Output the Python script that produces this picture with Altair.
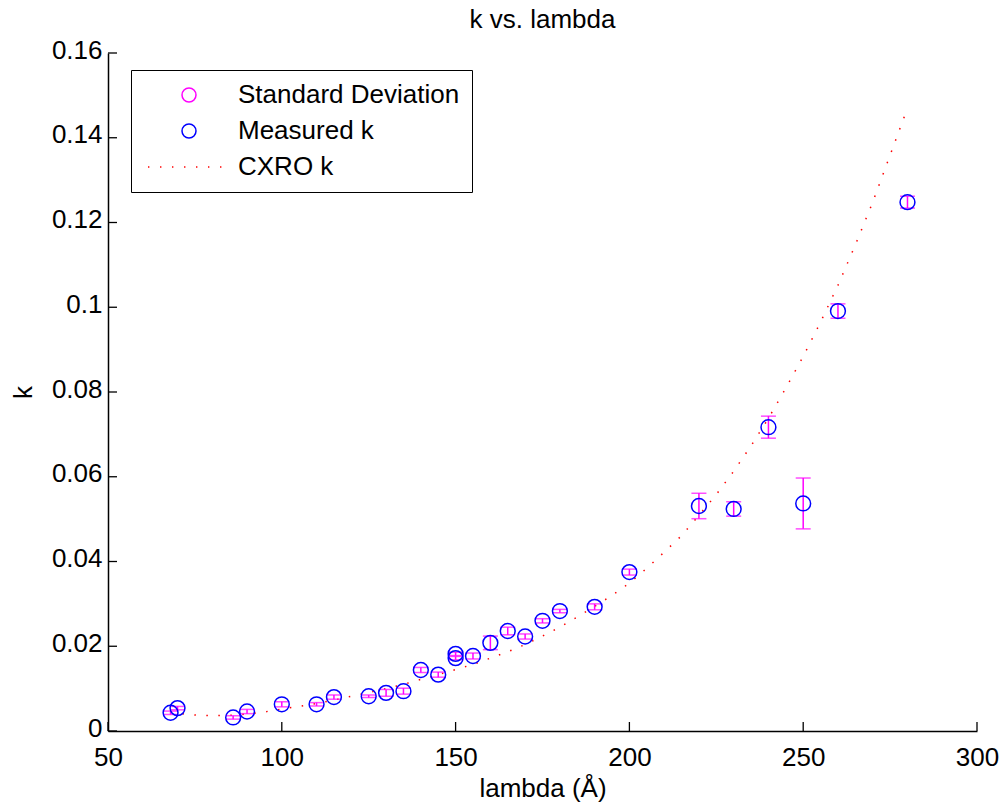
import altair as alt
import pandas as pd

# ---------------- data ----------------
lam_meas = [68, 70, 86, 90, 100, 110, 115, 125, 130, 135, 140, 145, 150, 150,
            155, 160, 165, 170, 175, 180, 190, 200, 220, 230, 240, 250, 260, 280]
k_meas = [0.0043, 0.0054, 0.0032, 0.0046, 0.0063, 0.0063, 0.0080, 0.0082, 0.0090,
          0.0094, 0.0144, 0.0133, 0.0182, 0.0172, 0.0177, 0.0208, 0.0236, 0.0223,
          0.0260, 0.0283, 0.0293, 0.0375, 0.0531, 0.0524, 0.0717, 0.0537, 0.0991,
          0.1248]
sd_meas = [0.0004, 0.0004, 0.0004, 0.0005, 0.0006, 0.0004, 0.0005, 0.0003, 0.0008,
           0.0007, 0.0006, 0.0006, 0.0004, 0.0004, 0.0007, 0.0016, 0.0009, 0.0006,
           0.0005, 0.0004, 0.0007, 0.0007, 0.0030, 0.0017, 0.0026, 0.0060, 0.0017,
           0.0014]

lam_cxro = [68, 72, 76, 80, 85, 90, 95, 100, 105, 110, 115, 120, 125, 130, 135,
            140, 145, 150, 155, 160, 165, 170, 175, 180, 185, 190, 195, 200, 205,
            210, 215, 220, 225, 230, 235, 240, 245, 250, 255, 260, 265, 270, 275, 280]
k_cxro = [0.0045, 0.0040, 0.0037, 0.0036, 0.0037, 0.0040, 0.0045, 0.0052, 0.0058,
          0.0065, 0.0073, 0.0082, 0.0091, 0.0100, 0.0110, 0.0122, 0.0133, 0.0145,
          0.0157, 0.0172, 0.0187, 0.0204, 0.0224, 0.0245, 0.0269, 0.0294, 0.0320,
          0.0349, 0.0384, 0.0422, 0.0461, 0.0509, 0.0558, 0.0613, 0.0673, 0.0738,
          0.0809, 0.0884, 0.0965, 0.1052, 0.1147, 0.1248, 0.1359, 0.1470]

x_ticks = [50, 100, 150, 200, 250, 300]
y_ticks = [0, 0.02, 0.04, 0.06, 0.08, 0.1, 0.12, 0.14, 0.16]

series_names = ["Standard Deviation", "Measured k", "CXRO k"]
series_colors = ["#ff00ff", "#0000ff", "#ff0000"]

# ---------------- tables ----------------
meas = pd.DataFrame({"lambda": lam_meas, "k": k_meas, "sd": sd_meas})
meas["lo"] = meas["k"] - meas["sd"]
meas["hi"] = meas["k"] + meas["sd"]
meas["series"] = "Measured k"
cxro = pd.DataFrame({"lambda": lam_cxro, "k": k_cxro})
xt = pd.DataFrame({"lambda": x_ticks})
yt = pd.DataFrame({"k": y_ticks})

# ---------------- styling ----------------
W, H = 869, 678
FONT = "Liberation Sans"
FS = 26

xscale = alt.Scale(domain=[50, 300], nice=False, zero=False)
yscale = alt.Scale(domain=[0, 0.16], nice=False, zero=False)

xaxis = alt.Axis(title="lambda (Å)", values=x_ticks, ticks=False, grid=False,
                 labelPadding=13, titlePadding=5, labelFlush=False,
                 labelOverlap=False,
                 labelExpr="format(datum.value, '~g')")
yaxis = alt.Axis(title="k", values=y_ticks, ticks=False, grid=False,
                 labelPadding=6, labelOffset=-3, titlePadding=15,
                 labelFlush=False, labelOverlap=False,
                 labelExpr="format(datum.value, '~g')")


def X(field):
    return alt.X(field, type="quantitative", scale=xscale, axis=xaxis)


def Y(field):
    return alt.Y(field, type="quantitative", scale=yscale, axis=yaxis)


dotted_path = ("M-5.86,0h0.2M-4.14,0h0.2M-2.43,0h0.2M-0.71,0h0.2"
               "M1,0h0.2M2.71,0h0.2M4.43,0h0.2")

legend = alt.Legend(title=None, orient="none", legendX=23, legendY=17,
                    fillColor="white", strokeColor="black", padding=12,
                    labelFont=FONT, labelFontSize=FS, labelColor="black",
                    labelOffset=36, rowPadding=10, symbolSize=196,
                    symbolOffset=33,
                    symbolStrokeWidth=1.5, labelLimit=400)

line = alt.Chart(cxro).mark_line(
    color="#ff0000", strokeWidth=1.5, strokeDash=[1.5, 10.5], strokeCap="butt"
).encode(x=X("lambda"), y=Y("k"))

err = alt.Chart(meas).mark_rule(color="#ff00ff", strokeWidth=1.5).encode(
    x=X("lambda"), y=Y("lo"), y2="hi")

cap_hi = alt.Chart(meas).mark_tick(
    color="#ff00ff", orient="horizontal", size=15, thickness=1.5
).encode(x=X("lambda"), y=Y("hi"))
cap_lo = alt.Chart(meas).mark_tick(
    color="#ff00ff", orient="horizontal", size=15, thickness=1.5
).encode(x=X("lambda"), y=Y("lo"))

pts = alt.Chart(meas).mark_point(filled=False, size=220, strokeWidth=1.5, opacity=1).encode(
    x=X("lambda"), y=Y("k"),
    color=alt.Color("series:N", scale=alt.Scale(domain=series_names, range=series_colors),
                    legend=legend),
    shape=alt.Shape("series:N",
                    scale=alt.Scale(domain=series_names,
                                    range=["circle", "circle", dotted_path]),
                    legend=legend),
)

xtick_marks = alt.Chart(xt).mark_rule(color="black", strokeWidth=1.3).encode(
    x=X("lambda"), y=alt.value(H), y2=alt.value(H - 9))
ytick_marks = alt.Chart(yt).mark_rule(color="black", strokeWidth=1.3).encode(
    y=Y("k"), x=alt.value(0), x2=alt.value(9))

chart = alt.layer(line, err, cap_hi, cap_lo, pts, xtick_marks, ytick_marks).properties(
    width=W, height=H,
    title=alt.TitleParams("k vs. lambda", font=FONT, fontSize=FS, fontWeight="normal",
                          color="black", offset=4, anchor="middle"),
    autosize=alt.AutoSizeParams(type="none"),
    padding={"left": 108, "top": 53, "right": 27, "bottom": 75},
    background="white",
).configure_view(stroke=None).configure_axis(
    domainColor="black", domainWidth=1.5,
    labelFont=FONT, labelFontSize=FS, labelColor="black",
    titleFont=FONT, titleFontSize=FS, titleFontWeight="normal", titleColor="black",
)

chart.save("out.html", embed_options={"renderer": "svg", "actions": False})
